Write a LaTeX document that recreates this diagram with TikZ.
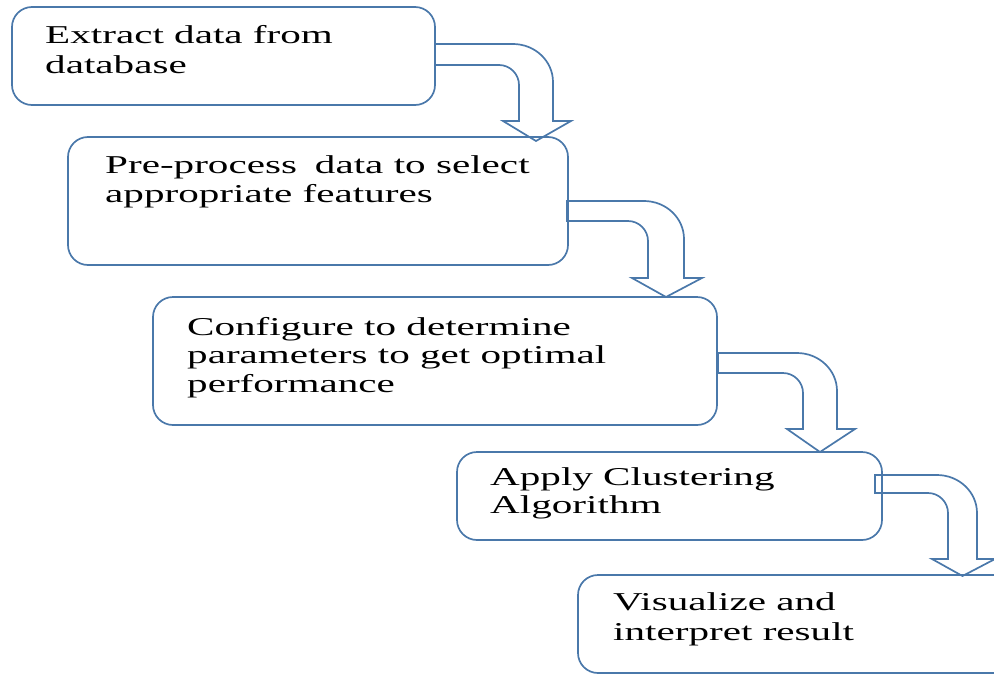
\documentclass[tikz,border=0pt]{standalone}
\usepackage{fontspec}
\setmainfont{Liberation Serif}[FakeStretch=1.6]
\definecolor{edge}{RGB}{74,120,170}
\tikzset{
  box/.style={draw=edge, line width=1.7pt, rounded corners=20pt, inner sep=0pt, outer sep=0pt, anchor=north west},
  txt/.style={anchor=base west, inner sep=0pt, font=\fontsize{25.7}{29}\selectfont, text=black},
  barrow/.style={draw=edge, line width=1.7pt, line join=miter}
}
% #1 x0, #2 yt, #3 yb, #4 xi, #5 xo, #6 ybase, #7 tip y
\newcommand\bentarr[7]{%
  \draw[barrow] (#1,#2) -- ({#5-40},#2) .. controls ({#5-18},#2) and (#5,{#2+17}) .. (#5,{#2+38})
    -- (#5,#6) -- ({#5+18},#6) -- ({(#4+#5)/2},#7) -- ({#4-16},#6) -- (#4,#6)
    -- (#4,{#3+20}) .. controls (#4,{#3+9}) and ({#4-9},#3) .. ({#4-20},#3) -- (#1,#3) -- cycle;}
\begin{document}
\begin{tikzpicture}[x=1pt,y=-1pt]
\clip (0,0) rectangle (994,675);
\node[box, minimum width=423pt, minimum height=98pt] (b1) at (12,7) {};
\node[box, minimum width=500pt, minimum height=128pt] (b2) at (68,137) {};
\node[box, minimum width=564pt, minimum height=128pt] (b3) at (153,297) {};
\node[box, minimum width=425pt, minimum height=88pt] (b4) at (457,452) {};
\node[box, minimum width=450pt, minimum height=98pt] (b5) at (578,575) {};

\node[txt] (t1a) at (45,43) {Extract data from};
\node[txt] (t1b) at (45,73) {database};
\node[txt] (t2a) at (105,173) {Pre-process\hspace{0.3em} data to select};
\node[txt] (t2b) at (105,202) {appropriate features};
\node[txt] (t3a) at (187,335) {Configure to determine};
\node[txt] (t3b) at (187,363) {parameters to get optimal};
\node[txt] (t3c) at (187,392) {performance};
\node[txt] (t4a) at (490,485) {Apply Clustering};
\node[txt] (t4b) at (490,513) {Algorithm};
\node[txt] (t5a) at (613,610) {Visualize and};
\node[txt] (t5b) at (613,640) {interpret result};

\bentarr{435}{44}{65}{519}{553}{121}{141}
\bentarr{567}{201}{221}{648}{684}{278}{297}
\bentarr{718}{353}{373}{803}{837}{429}{452}
\bentarr{875}{475}{493}{948}{977}{559}{576}
\end{tikzpicture}
\end{document}
